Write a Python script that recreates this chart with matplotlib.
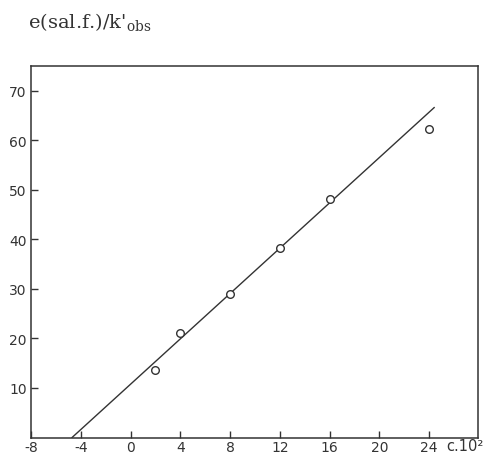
import matplotlib
matplotlib.use("Agg")
import matplotlib.pyplot as plt

# measured points
conc = [2, 4, 8, 12, 16, 24]
ratio = [13.7, 21.0, 28.9, 38.2, 48.2, 62.2]

# fitted straight line (end points)
fit_x = [-4.7, 24.4]
fit_y = [0.0, 66.6]

x_ticks = [-8, -4, 0, 4, 8, 12, 16, 20, 24]
y_ticks = [10, 20, 30, 40, 50, 60, 70]

plt.rcParams['axes.unicode_minus'] = False
plt.rcParams['mathtext.fontset'] = 'dejavuserif'

fig = plt.figure(figsize=(4.94, 4.56), dpi=100)
ax = fig.add_axes([31 / 494, 17.5 / 456, 446.7 / 494, 371.5 / 456])

ax.plot(fit_x, fit_y, color='#333333', lw=1.0)
ax.plot(conc, ratio, 'o', mfc='white', mec='#333333', ms=5.5, mew=1.0)

ax.set_xlim(-8, 27.9)
ax.set_ylim(0, 75)
ax.set_xticks(x_ticks)
ax.set_yticks(y_ticks)
ax.tick_params(direction='in', length=5, width=1, colors='#333333',
               labelsize=10, pad=3)
ax.tick_params(axis='x', pad=2)
for s in ax.spines.values():
    s.set_linewidth(1.1)
    s.set_color('#333333')

fig.text(446 / 494, 9 / 456, 'c.10²', fontsize=10.5, color='#333333',
         ha='left', va='center')
fig.text(28 / 494, 1 - 22 / 456, r"e(sal.f.)/k$'_{\mathrm{obs}}$",
         fontsize=14, family='DejaVu Serif', color='#333333',
         ha='left', va='center')

fig.savefig('out.png', dpi=100, facecolor='white')
